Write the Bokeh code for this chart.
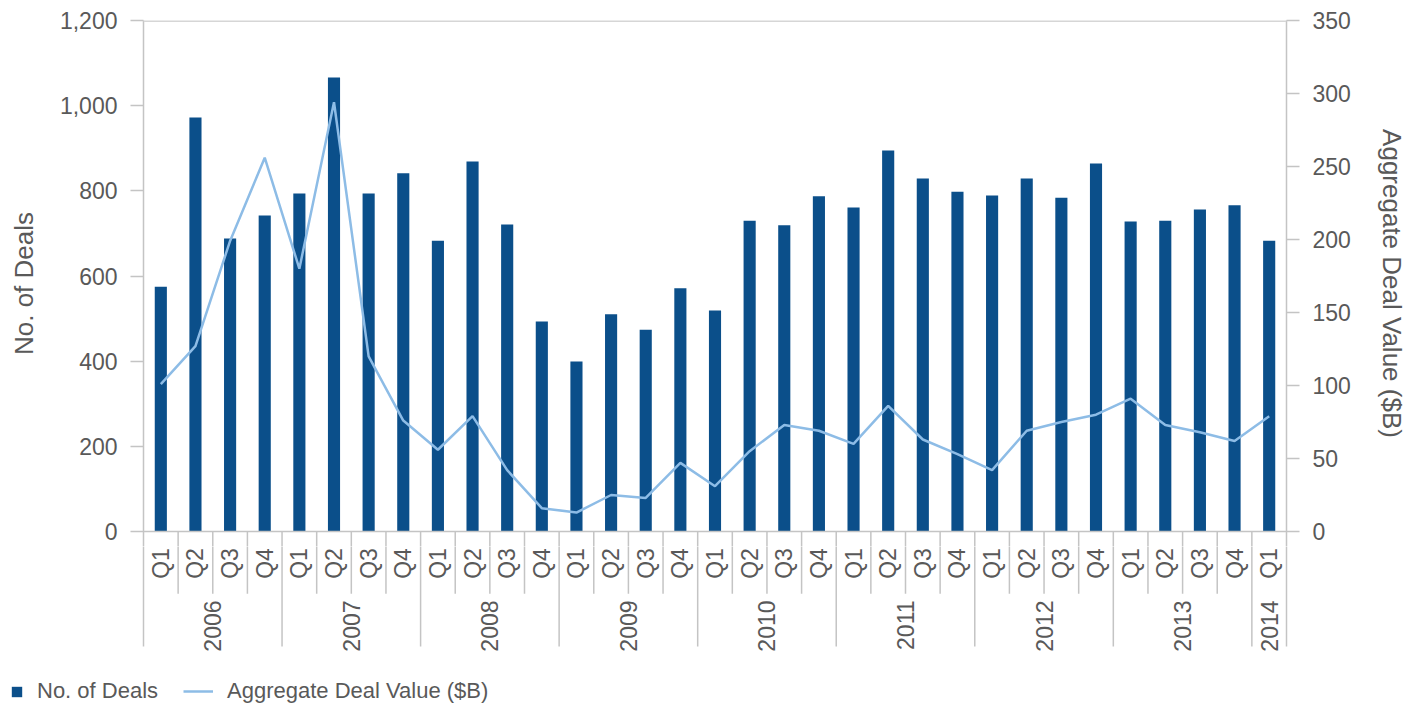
import math
from bokeh.plotting import figure
from bokeh.layouts import column
from bokeh.models import (Range1d, LinearAxis, FixedTicker, NumeralTickFormatter,
                          Span, Legend, LegendItem, ColumnDataSource)
from bokeh.embed import file_html
from bokeh.resources import INLINE
from bokeh.core.properties import value

# ---- data ----
years = ["2006", "2006", "2006", "2006",
         "2007", "2007", "2007", "2007",
         "2008", "2008", "2008", "2008",
         "2009", "2009", "2009", "2009",
         "2010", "2010", "2010", "2010",
         "2011", "2011", "2011", "2011",
         "2012", "2012", "2012", "2012",
         "2013", "2013", "2013", "2013",
         "2014"]
quarters = ["Q1", "Q2", "Q3", "Q4"] * 8 + ["Q1"]
deals = [575, 972, 688, 742,
         794, 1066, 794, 841,
         683, 869, 721, 493,
         399, 510, 474, 571,
         519, 730, 719, 787,
         761, 895, 829, 798,
         789, 829, 784, 864,
         728, 730, 756, 766,
         683]
agg_value = [101, 127, 199, 256,
             180, 294, 120, 76,
             56, 79, 42, 16,
             13, 25, 23, 47,
             31, 55, 73, 69,
             60, 86, 63, 53,
             42, 69, 75, 80,
             91, 73, 68, 62,
             79]
left_ticks = [0, 200, 400, 600, 800, 1000, 1200]
right_ticks = [0, 50, 100, 150, 200, 250, 300, 350]

n = len(deals)
xc = [i + 0.5 for i in range(n)]
src = ColumnDataSource(dict(x=xc, deals=deals, val=agg_value, q=quarters, yr=years))

FONT = "Liberation Sans"
TXT = "#595959"
AX = "#c4c4c4"
BAR = "#0B4F8A"
LINE = "#8DBCE6"

PXU = 511 / 1200.0           # pixels per deal unit
EXT = 15 / PXU               # main frame extends 15px below zero
CAT_BOTTOM = 115 / PXU       # separators reach 115px below zero
BAND_BOTTOM = 129 / PXU      # category band frame depth

xr = Range1d(0, n)

# ---------------- main chart ----------------
p = figure(width=1418, height=546, x_range=xr, y_range=Range1d(-EXT, 1200),
           x_axis_location=None, output_backend="svg", toolbar_location=None,
           min_border_left=143, min_border_right=132, min_border_top=20, min_border_bottom=0)
p.outline_line_color = None
p.xgrid.visible = False
p.ygrid.visible = False
p.extra_y_ranges = {"right": Range1d(-EXT * 350 / 1200, 350)}

def style_axis(ax):
    ax.axis_line_color = AX
    ax.axis_line_width = 1.5
    ax.major_tick_line_color = AX
    ax.major_tick_line_width = 1.5
    ax.major_tick_out = 13
    ax.major_tick_in = 0
    ax.minor_tick_line_color = None
    ax.major_label_text_font = FONT
    ax.major_label_text_font_size = "23px"
    ax.major_label_text_color = TXT
    ax.major_label_standoff = 13
    ax.axis_label_text_font = FONT
    ax.axis_label_text_font_size = "26px"
    ax.axis_label_text_color = TXT
    ax.axis_label_text_font_style = "normal"

ly = p.yaxis[0]
ly.ticker = FixedTicker(ticks=left_ticks)
ly.formatter = NumeralTickFormatter(format="0,0")
style_axis(ly)
ly.axis_label = "No. of Deals"
ly.axis_label_standoff = 18

ry = LinearAxis(y_range_name="right", ticker=FixedTicker(ticks=right_ticks))
style_axis(ry)
ry.axis_label = "Aggregate Deal Value ($B)"
ry.axis_label_standoff = 23
p.add_layout(ry, "right")

p.add_layout(Span(location=1200, dimension="width", line_color="#d6d6d6", line_width=3))
p.add_layout(Span(location=0, dimension="width", line_color=AX, line_width=1.5))

bars = p.vbar(x="x", top="deals", bottom=0, width=0.35, source=src,
              fill_color=BAR, line_color=None)
line = p.line(x="x", y="val", source=src, y_range_name="right",
              line_color=LINE, line_width=2.5)

# category separators
short_b, long_b = [], []
for i in range(1, n):
    if years[i] != years[i - 1]:
        long_b.append(i)
    else:
        short_b.append(i)

def draw_separators(fig):
    fig.segment(x0=short_b, y0=0, x1=short_b, y1=-146, line_color=AX, line_width=1.5)
    fig.segment(x0=long_b, y0=0, x1=long_b, y1=-CAT_BOTTOM, line_color=AX, line_width=1.5)

draw_separators(p)

# ---------------- category band ----------------
c = figure(width=1418, height=114, x_range=xr, y_range=Range1d(-BAND_BOTTOM, -EXT),
           x_axis_location=None, y_axis_location=None,
           output_backend="svg", toolbar_location=None,
           min_border_left=143, min_border_right=132, min_border_top=0, min_border_bottom=0)
c.outline_line_color = None
c.xgrid.visible = False
c.ygrid.visible = False
for side in ("left", "right"):
    a = LinearAxis(ticker=FixedTicker(ticks=[]), bounds=(-CAT_BOTTOM, -EXT),
                   axis_line_color=AX, axis_line_width=1.5,
                   major_tick_line_color=None, minor_tick_line_color=None,
                   major_label_text_font_size="0px")
    c.add_layout(a, side)
draw_separators(c)

c.text(x="x", y=-39, text="q", source=src, angle=math.pi / 2, text_align="right",
       text_baseline="middle", text_font=value(FONT), text_font_size="23px", text_color=TXT)

uy = []
for y in years:
    if y not in uy:
        uy.append(y)
ycent = [sum(xc[i] for i in range(n) if years[i] == y) / years.count(y) for y in uy]
c.text(x=ycent, y=-162, text=uy, angle=math.pi / 2, text_align="right",
       text_baseline="middle", text_font=value(FONT), text_font_size="23px", text_color=TXT)

# ---------------- legend strip ----------------
g = figure(width=1418, height=46, x_range=Range1d(0, 1418), y_range=Range1d(0, 46),
           x_axis_location=None, y_axis_location=None,
           output_backend="svg", toolbar_location=None,
           min_border_left=0, min_border_right=0, min_border_top=0, min_border_bottom=0)
g.frame_align = False
g.outline_line_color = None
g.xgrid.visible = False
g.ygrid.visible = False
lb = g.vbar(x=[-500], top=[-500], bottom=-600, width=1, fill_color=BAR, line_color=None)
ll = g.line(x=[-500, -400], y=[-500, -500], line_color=LINE, line_width=2.5)

def mk_legend(item, loc, gw, gh, standoff):
    return Legend(items=[item], location=loc, orientation="horizontal",
                  glyph_width=gw, glyph_height=gh, label_standoff=standoff,
                  padding=0, margin=0, border_line_color=None, background_fill_alpha=0,
                  label_text_font=FONT, label_text_font_size="22px", label_text_color=TXT)

g.add_layout(mk_legend(LegendItem(label="No. of Deals", renderers=[lb]), (10, 2), 13, 13, 14))
g.add_layout(mk_legend(LegendItem(label="Aggregate Deal Value ($B)", renderers=[ll]), (183, 2), 30, 20, 14))

layout = column(p, c, g, spacing=0)
open("out.html", "w").write(file_html(layout, INLINE))
